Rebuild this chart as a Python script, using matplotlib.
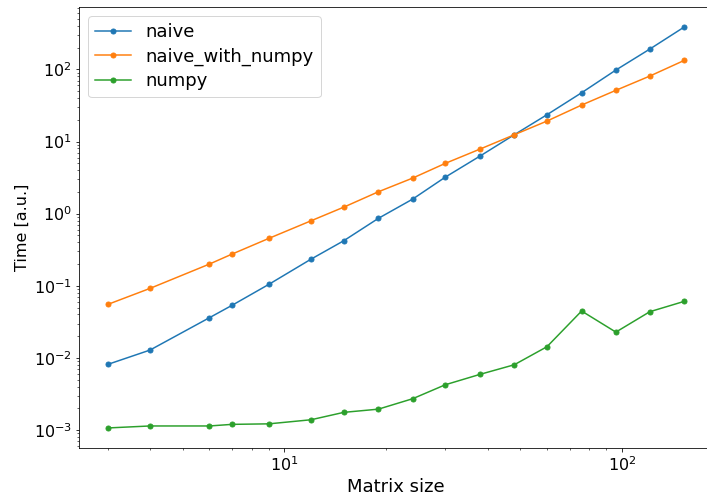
import matplotlib
matplotlib.use("Agg")
import matplotlib.pyplot as plt

sizes = [3, 4, 6, 7, 9, 12, 15, 19, 24, 30, 38, 48, 60, 76, 96, 121, 153]
naive = [0.00814, 0.01285, 0.0361, 0.0536, 0.1047, 0.234, 0.421, 0.861, 1.59,
         3.21, 6.28, 12.4, 23.5, 47.4, 97.8, 191, 386]
naive_with_numpy = [0.0552, 0.0920, 0.200, 0.275, 0.454, 0.796, 1.23, 2.01, 3.11,
                    4.98, 7.85, 12.4, 19.2, 32.0, 51.2, 80.7, 133]
numpy_t = [0.00107, 0.00114, 0.00114, 0.00120, 0.00122, 0.00139, 0.00176, 0.00195,
           0.00272, 0.00425, 0.00592, 0.00804, 0.0143, 0.0447, 0.0228, 0.0437, 0.0608]

plt.rcParams['font.size'] = 16
W, H = 707, 492
fig = plt.figure(figsize=(W / 72, H / 72), dpi=72)
ax = fig.add_axes([79 / W, (H - 448) / H, (713 - 79) / W, (448 - 7) / H])

ax.plot(sizes, naive, marker='o', ms=5, label='naive')
ax.plot(sizes, naive_with_numpy, marker='o', ms=5, label='naive_with_numpy')
ax.plot(sizes, numpy_t, marker='o', ms=5, label='numpy')
ax.set_xscale('log')
ax.set_yscale('log')
ax.set_xlabel('Matrix size', fontsize=18)
ax.set_ylabel('Time [a.u.]', fontsize=16)
ax.legend(loc='upper left', fontsize=18, labelspacing=0.35)

fig.savefig('out.png', dpi=72)
